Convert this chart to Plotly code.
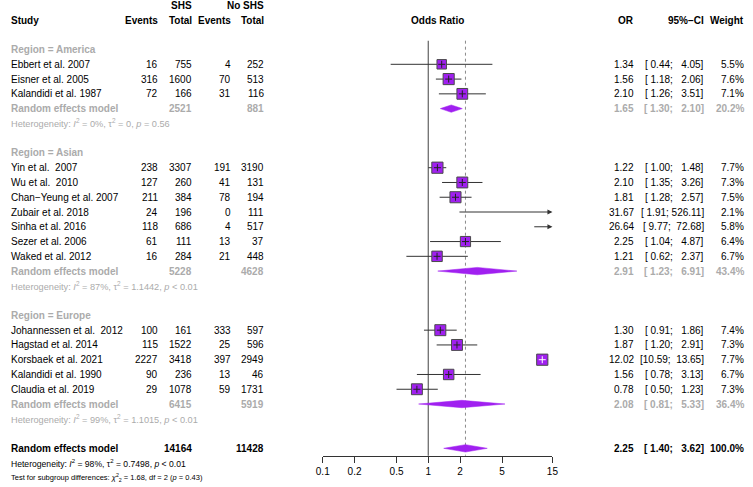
import math
import plotly.graph_objects as go

# ---------------- data ----------------
regions = ["America", "Asian", "Europe"]
study = ["Ebbert et al. 2007", "Eisner et al. 2005", "Kalandidi et al. 1987",
         "Yin et al.\u00a0 2007", "Wu et al.\u00a0 2010", "Chan\u2212Yeung et al. 2007",
         "Zubair et al. 2018", "Sinha et al. 2016", "Sezer et al. 2006", "Waked et al. 2012",
         "Johannessen et al.\u00a0 2012", "Hagstad et al. 2014", "Korsbaek et al. 2021",
         "Kalandidi et al. 1990", "Claudia et al. 2019"]
study_region = ["America"] * 3 + ["Asian"] * 7 + ["Europe"] * 5
ev_shs = [16, 316, 72, 238, 127, 211, 24, 118, 61, 16, 100, 115, 2227, 90, 29]
tot_shs = [755, 1600, 166, 3307, 260, 384, 196, 686, 111, 284, 161, 1522, 3418, 236, 1078]
ev_no = [4, 70, 31, 191, 41, 78, 0, 4, 13, 21, 333, 25, 397, 13, 59]
tot_no = [252, 513, 116, 3190, 131, 194, 111, 517, 37, 448, 597, 596, 2949, 46, 1731]
odds = [1.34, 1.56, 2.10, 1.22, 2.10, 1.81, 31.67, 26.64, 2.25, 1.21, 1.30, 1.87, 12.02, 1.56, 0.78]
lo = [0.44, 1.18, 1.26, 1.00, 1.35, 1.28, 1.91, 9.77, 1.04, 0.62, 0.91, 1.20, 10.59, 0.78, 0.50]
hi = [4.05, 2.06, 3.51, 1.48, 3.26, 2.57, 526.11, 72.68, 4.87, 2.37, 1.86, 2.91, 13.65, 3.13, 1.23]
weight = [5.5, 7.6, 7.1, 7.7, 7.3, 7.5, 2.1, 5.8, 6.4, 6.7, 7.4, 7.3, 7.7, 6.7, 7.3]

sub_tot_shs = [2521, 5228, 6415]
sub_tot_no = [881, 4628, 5919]
sub_or = [1.65, 2.91, 2.08]
sub_lo = [1.30, 1.23, 0.81]
sub_hi = [2.10, 6.91, 5.33]
sub_weight = [20.2, 43.4, 36.4]
sub_i2 = ["0%", "87%", "99%"]
sub_tau2 = ["0", "1.1442", "1.1015"]
sub_p = ["= 0.56", "< 0.01", "< 0.01"]

all_tot_shs = 14164
all_tot_no = 11428
all_or = 2.25
all_lo = 1.40
all_hi = 3.62
all_weight = 100.0
all_i2 = "98%"
all_tau2 = "0.7498"
all_p = "< 0.01"
test_chi2 = "1.68"
test_df = "2"
test_p = "0.43"

tick_vals = [0.1, 0.2, 0.5, 1, 2, 5, 15]
tick_text = ["0.1", "0.2", "0.5", "1", "2", "5", "15"]
x_min, x_max = 0.1, 15

# ---------------- styling ----------------
W, H = 753, 487
FONT = "Liberation Sans, Arial, sans-serif"
GRAY = "#ababab"
PURPLE = "#A020F0"
NB = "\u00a0"
HET_SIZE = 9.2
ALLHET_SIZE = 8.6
TEST_SIZE = 7.5

col_study = 3
col_ev1, col_tot1, col_ev2, col_tot2 = 155, 189, 229, 263
col_or, col_ci, col_w = 639, 710, 751

annotations = []


def txt(x, r, s, anchor="right", color="black", size=10, bold=False):
    if bold:
        s = "<b>" + s + "</b>"
    annotations.append(dict(x=x / W, xref="paper", y=r, yref="y", text=s,
                            showarrow=False, xanchor=anchor, yanchor="middle",
                            font=dict(family=FONT, size=size, color=color),
                            borderpad=0))


def fci(l, u):
    return ("[" + f"{l:.2f}".rjust(5) + "; " + f"{u:.2f}".rjust(6) + "]").replace(" ", NB)


def het(i2, tau2, p):
    return (f"Heterogeneity: <i>I</i><sup>2</sup> = {i2}, \u03c4<sup>2</sup> = {tau2}, "
            f"<i>p</i> {p}")


# header
txt(col_tot1, -1, "SHS", bold=True)
txt(col_tot2, -1, "No SHS", bold=True)
txt(col_study, 0, "Study", anchor="left", bold=True)
for c in (col_ev1, col_ev2):
    txt(c, 0, "Events", bold=True)
for c in (col_tot1, col_tot2):
    txt(c, 0, "Total", bold=True)
annotations.append(dict(x=437.7 / W, xref="paper", y=0, yref="y", text="<b>Odds Ratio</b>",
                        showarrow=False, xanchor="center", yanchor="middle",
                        font=dict(family=FONT, size=10, color="black")))
txt(col_or, 0, "OR", bold=True)
txt(col_ci, 0, "95%\u2212CI", bold=True)
txt(col_w, 0, "Weight", bold=True)

# rows
study_rows, sub_rows = [], []
r = 2
for g, reg in enumerate(regions):
    txt(col_study, r, f"Region = {reg}", anchor="left", color=GRAY, bold=True)
    r += 1
    for i, s in enumerate(study):
        if study_region[i] != reg:
            continue
        study_rows.append((i, r))
        txt(col_study, r, s, anchor="left")
        txt(col_ev1, r, str(ev_shs[i]))
        txt(col_tot1, r, str(tot_shs[i]))
        txt(col_ev2, r, str(ev_no[i]))
        txt(col_tot2, r, str(tot_no[i]))
        txt(col_or, r, f"{odds[i]:.2f}")
        txt(col_ci, r, fci(lo[i], hi[i]))
        txt(col_w, r, f"{weight[i]:.1f}%")
        r += 1
    sub_rows.append((g, r))
    txt(col_study, r, "Random effects model", anchor="left", color=GRAY, bold=True)
    txt(col_tot1, r, str(sub_tot_shs[g]), color=GRAY, bold=True)
    txt(col_tot2, r, str(sub_tot_no[g]), color=GRAY, bold=True)
    txt(col_or, r, f"{sub_or[g]:.2f}", color=GRAY, bold=True)
    txt(col_ci, r, fci(sub_lo[g], sub_hi[g]), color=GRAY, bold=True)
    txt(col_w, r, f"{sub_weight[g]:.1f}%", color=GRAY, bold=True)
    r += 1
    txt(col_study, r, het(sub_i2[g], sub_tau2[g], sub_p[g]), anchor="left", color=GRAY, size=HET_SIZE)
    r += 2

overall_row = r
txt(col_study, r, "Random effects model", anchor="left", bold=True)
txt(col_tot1, r, str(all_tot_shs), bold=True)
txt(col_tot2, r, str(all_tot_no), bold=True)
txt(col_or, r, f"{all_or:.2f}", bold=True)
txt(col_ci, r, fci(all_lo, all_hi), bold=True)
txt(col_w, r, f"{all_weight:.1f}%", bold=True)
txt(col_study, r + 1, het(all_i2, all_tau2, all_p), anchor="left", size=ALLHET_SIZE)
txt(col_study, r + 2, f"Test for subgroup differences: <i>\u03c7</i><sup>2</sup><sub>{test_df}</sub> = {test_chi2}, "
                      f"df = {test_df} (<i>p</i> = {test_p})", anchor="left", size=TEST_SIZE)

axis_row = overall_row + 0.5
top_row = 1.4

fig = go.Figure()

# reference lines
fig.add_trace(go.Scatter(x=[1, 1], y=[top_row, axis_row], mode="lines",
                         line=dict(color="#6e6e6e", width=1.3), hoverinfo="skip"))
fig.add_trace(go.Scatter(x=[all_or, all_or], y=[top_row, axis_row], mode="lines",
                         line=dict(color="#8a8a8a", width=1, dash="dot"), hoverinfo="skip"))

# CI lines (in range) and arrows (out of range)
cx, cy = [], []
for i, rr in study_rows:
    if hi[i] > x_max:
        annotations.append(dict(x=math.log10(x_max), y=rr, xref="x", yref="y",
                                ax=math.log10(max(lo[i], x_min)), ay=rr, axref="x", ayref="y",
                                showarrow=True, arrowhead=2, arrowsize=1, arrowwidth=1,
                                arrowcolor="#333333", text=" ", font=dict(size=1)))
        continue
    cx += [max(lo[i], x_min), min(hi[i], x_max), None]
    cy += [rr, rr, None]
fig.add_trace(go.Scatter(x=cx, y=cy, mode="lines", line=dict(color="#333333", width=1),
                         hoverinfo="skip"))

# squares
sx, sy, ss, kc = [], [], [], []
for i, rr in study_rows:
    if odds[i] > x_max:
        continue
    size = 11.2 * math.sqrt(weight[i] / 7.7)
    sx.append(odds[i]); sy.append(rr); ss.append(size)
    inside = abs(math.log10(hi[i]) - math.log10(lo[i])) * 107.4 < size + 1.5
    kc.append("white" if inside else "#222222")
fig.add_trace(go.Scatter(x=sx, y=sy, mode="markers",
                         marker=dict(symbol="square", size=ss, color=PURPLE, opacity=1,
                                     line=dict(color="#4a4a4a", width=1)),
                         hoverinfo="skip"))
for x, y, c in zip(sx, sy, kc):
    fig.add_trace(go.Scatter(x=[x], y=[y], mode="markers",
                             marker=dict(symbol="cross-thin", size=5, opacity=1,
                                         line=dict(color=c, width=1)),
                             hoverinfo="skip"))

# diamonds
h = 0.25
for (g, rr) in sub_rows:
    fig.add_trace(go.Scatter(x=[sub_lo[g], sub_or[g], sub_hi[g], sub_or[g], sub_lo[g]],
                             y=[rr, rr - h, rr, rr + h, rr], mode="lines", fill="toself",
                             fillcolor=PURPLE, line=dict(color=PURPLE, width=0.5),
                             hoverinfo="skip"))
fig.add_trace(go.Scatter(x=[all_lo, all_or, all_hi, all_or, all_lo],
                         y=[overall_row, overall_row - h, overall_row, overall_row + h, overall_row],
                         mode="lines", fill="toself", fillcolor=PURPLE,
                         line=dict(color=PURPLE, width=0.5), hoverinfo="skip"))

# axis geometry: row r -> pixel 20 + 14.77 r
row_px = 14.77
y_top = -20 / row_px
y_bot = (H - 20) / row_px
axis_px = 20 + row_px * axis_row

fig.update_layout(
    width=W, height=H, margin=dict(l=0, r=0, t=0, b=0),
    paper_bgcolor="white", plot_bgcolor="white", showlegend=False,
    annotations=annotations,
    xaxis=dict(type="log", range=[math.log10(x_min), math.log10(x_max)],
               domain=[321.3 / W, 555.0 / W], anchor="free", position=(H - axis_px) / H,
               showline=True, linecolor="#333333", linewidth=1,
               ticks="outside", ticklen=6, tickcolor="#333333", tickwidth=1,
               tickvals=tick_vals, ticktext=tick_text, showgrid=False, zeroline=False,
               tickfont=dict(family=FONT, size=10, color="black")),
    yaxis=dict(range=[y_bot, y_top], domain=[0, 1], visible=False, showgrid=False,
               zeroline=False),
)

fig.write_html("out.html", config={"displayModeBar": False},
               post_script="document.body.style.margin='0';")
